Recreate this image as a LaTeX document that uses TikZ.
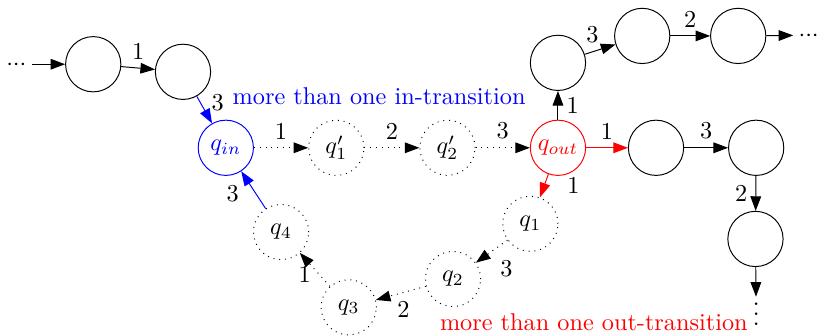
\documentclass[tikz,border=0pt]{standalone}
\usepackage{amsmath}
\usetikzlibrary{arrows.meta}
\newcommand{\moredots}{\ensuremath{\mathord{\cdotp}\mathord{\cdotp}\mathord{\cdotp}}}

\begin{document}
\begin{tikzpicture}[
    st/.style={circle,draw,minimum size=8mm,inner sep=1pt},
    ghost/.style={st,dotted},
    more/.style={inner sep=2pt,text height=5pt,text depth=0pt},
    tr/.style={-{Triangle[length=6pt,width=4.4pt]}},
    trin/.style={tr,blue},
    trout/.style={tr,red},
    lbl/.style={text=black}]
  \useasboundingbox (0,0) rectangle (11.86,-4.865);
  % way in
  \node[more] (ldots) at (0.237,-0.93) {\moredots};
  \node[st] (a) at (1.35,-0.93) {};
  \node[st] (b) at (2.65,-1.04) {};
  \node[st,blue] (qin) at (3.27,-2.14) {$q_{in}$};
  % the short way
  \node[ghost] (p1) at (4.87,-2.14) {$q'_1$};
  \node[ghost] (p2) at (6.48,-2.14) {$q'_2$};
  \node[st,red] (qout) at (8.08,-2.14) {$q_{out}$};
  % the long way round
  \node[ghost] (q1) at (7.68,-3.24) {$q_1$};
  \node[ghost] (q2) at (6.56,-4.04) {$q_2$};
  \node[ghost] (q3) at (5.05,-4.45) {$q_3$};
  \node[ghost] (q4) at (4.07,-3.36) {$q_4$};
  % ways out
  \node[st] (u1) at (8.08,-0.91) {};
  \node[st] (u2) at (9.30,-0.52) {};
  \node[st] (u3) at (10.69,-0.52) {};
  \node[more] (hdots) at (11.71,-0.51) {\moredots};
  \node[st] (r1) at (9.50,-2.14) {};
  \node[st] (r2) at (10.95,-2.14) {};
  \node[st] (r3) at (10.94,-3.46) {};
  \node[text height=9.5pt,text depth=0pt,inner sep=2pt] (vdots) at (10.95,-4.54) {$\vdots$};
  \node[text=blue] (inlbl) at (5.49,-1.39) {more than one in-transition};
  \node[text=red] (outlbl) at (8.60,-4.67) {more than one out-transition};

  \draw[tr] (ldots) -- (a);
  \draw[tr] (a) -- node[above]{1} (b);
  \draw[trin] (b) -- node[lbl,right=1pt,near start]{3} (qin);
  \draw[tr,dotted] (qin) -- node[above]{1} (p1);
  \draw[tr,dotted] (p1) -- node[above]{2} (p2);
  \draw[tr,dotted] (p2) -- node[above]{3} (qout);
  \draw[trout] (qout) -- node[lbl,right=6pt]{1} (q1);
  \draw[tr,dotted] (q1) -- node[below right]{3} (q2);
  \draw[tr,dotted] (q2) -- node[below,pos=0.45]{2} (q3);
  \draw[tr,dotted] (q3) -- node[left,pos=0.35]{1} (q4);
  \draw[trin] (q4) -- node[lbl,left=3.5pt,pos=0.4]{3} (qin);
  \draw[tr] (qout) -- node[right]{1} (u1);
  \draw[tr] (u1) -- node[above,pos=0.25]{3} (u2);
  \draw[tr] (u2) -- node[above]{2} (u3);
  \draw[tr] (u3) -- (hdots);
  \draw[trout] (qout) -- node[lbl,above]{1} (r1);
  \draw[tr] (r1) -- node[above]{3} (r2);
  \draw[tr] (r2) -- node[left]{2} (r3);
  \draw[tr] (r3) -- (vdots);
\end{tikzpicture}
\end{document}
